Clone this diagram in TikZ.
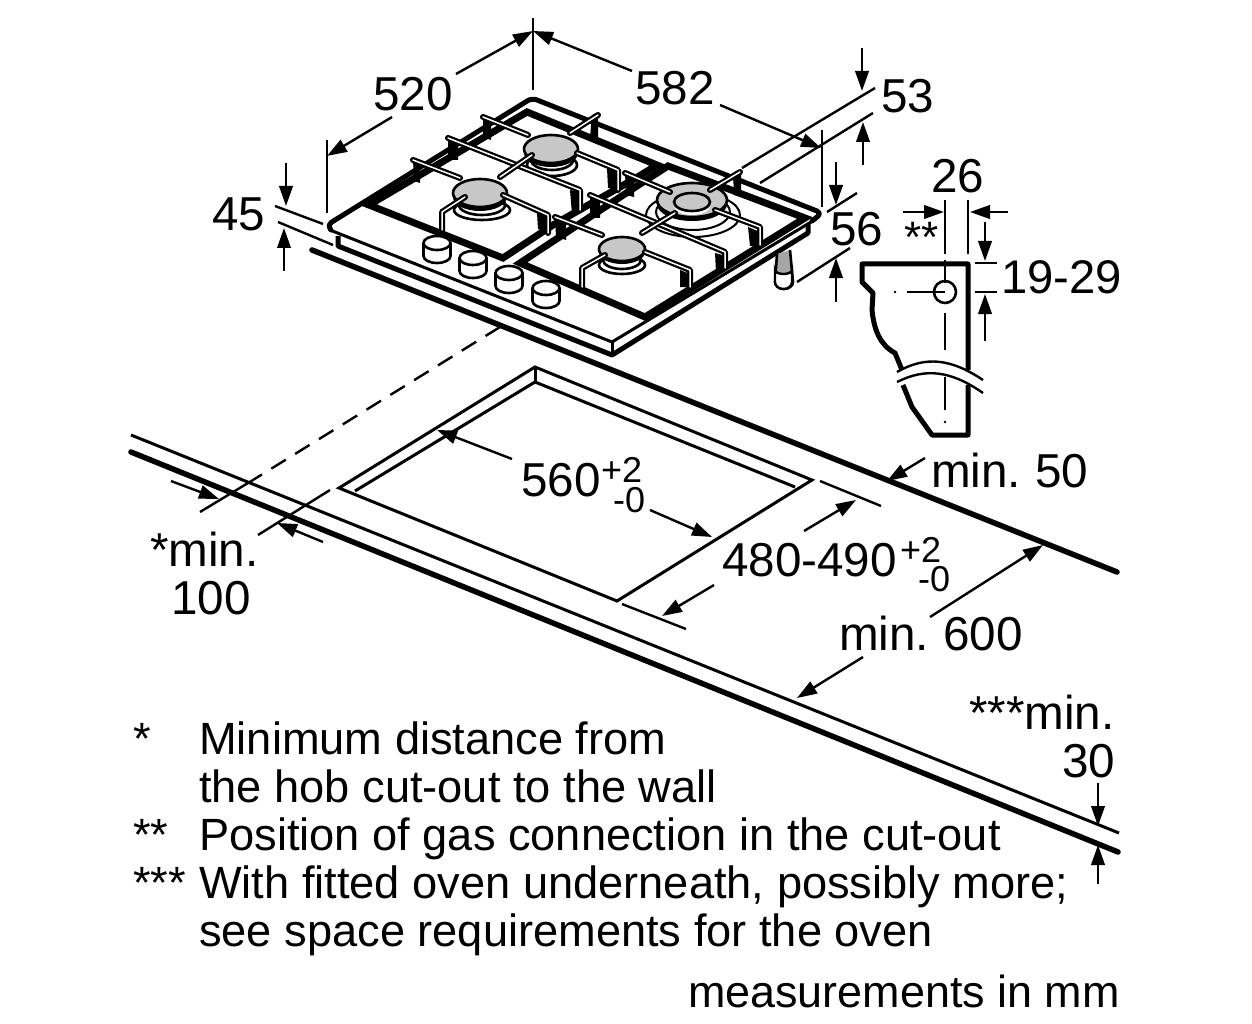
\documentclass[tikz,border=0pt]{standalone}
\usepackage{fontspec}
\setmainfont{Liberation Sans}
\usetikzlibrary{arrows.meta}
\tikzset{
 lbl/.style={font=\fontsize{47.6}{48}\selectfont,inner sep=0pt,anchor=base west},
 sup/.style={font=\fontsize{36}{36}\selectfont,inner sep=0pt,anchor=base west},
 txt/.style={font=\fontsize{45.2}{45}\selectfont,inner sep=0pt,anchor=base west},
 dim/.style={line width=2.4pt},
 arr/.style={line width=2.4pt,-{Triangle[length=20pt,width=13.5pt]}},
 thick1/.style={line width=5pt,line join=round,line cap=round},
 pan/.style={line width=7pt,line join=miter,line cap=round},
 burner/.style={draw,line width=2.6pt,fill=black!22},
 bar/.style={line width=6pt,line join=round,line cap=round},
 barw/.style={line width=1.5pt,white,line join=round,line cap=round},
 block/.style={fill=black},
}
\newcommand{\knob}[2]{%
 \begin{scope}[shift={(#1,#2)}]
 \draw[line width=2.6pt,fill=white] (-13.5,0) -- (-13.5,13) arc[start angle=180,end angle=360,x radius=13.5,y radius=-7] -- (13.5,0);
 \draw[line width=2.6pt,fill=white] (0,0) ellipse[x radius=13.5,y radius=7];
 \end{scope}}
\newcommand{\gbar}[1]{\draw[bar] #1; \draw[barw] #1;}
\begin{document}
\begin{tikzpicture}[x=1pt,y=-1pt]
\useasboundingbox (0,0) rectangle (1252,1024);
% hob plate
\coordinate (hL) at (327,225);
\coordinate (hT) at (532,98);
\coordinate (hR) at (822,213);
\coordinate (hB) at (612,342);
\draw[line width=3pt,line join=round] (330,230) -- (hB) -- (816,219);
\draw[thick1,rounded corners=5pt] (331,230) -- (hL) -- (hT) -- (hR) -- (812,221);
\draw[line width=5pt,line join=round] (338,236) -- (338,246) -- (612,355) -- (808,233) -- (808,224);
\draw[line width=3pt] (612,342) -- (612,355);
% pan supports
\draw[pan] (636,178) -- (553,225) -- (503,258) -- (369,205) -- (527,112) -- (657,165) -- (636,178);
\draw[pan] (640,184) -- (668,166) -- (805,218) -- (645,317) -- (520,263) -- (640,184);
% knobs
\knob{437}{243}\knob{473}{258}\knob{509}{273}\knob{546}{288}
% foot
\draw[line width=2.6pt,fill=black!35] (777,254) -- (775,282) arc[start angle=180,end angle=360,x radius=9,y radius=-7] -- (790,250);
\draw[line width=2.4pt,fill=white] (775,270) arc[start angle=180,end angle=360,x radius=8.5,y radius=-4] -- (792,282) arc[start angle=0,end angle=180,x radius=8.5,y radius=7] -- cycle;
% burners
\draw[line width=2.6pt] (482,210) ellipse[x radius=28,y radius=10];
\draw[line width=2.6pt] (482,205) ellipse[x radius=23,y radius=10];
\draw[line width=2.6pt] (552,165) ellipse[x radius=25,y radius=11];
\draw[line width=2.6pt] (552,160) ellipse[x radius=21,y radius=10];
\draw[line width=2.6pt] (622,265) ellipse[x radius=23,y radius=9];
\draw[line width=2.6pt] (622,260) ellipse[x radius=19,y radius=9];
\draw[line width=2pt] (693,215) ellipse[x radius=47,y radius=22];
\draw[line width=2pt] (693,212) ellipse[x radius=37,y radius=18];
\fill (480,197) ellipse[x radius=27,y radius=14];
\fill (551,153) ellipse[x radius=27,y radius=14];
\fill (622,252) ellipse[x radius=23,y radius=12];
\fill (692,204) ellipse[x radius=35,y radius=17];
\draw[burner] (480,193) ellipse[x radius=27,y radius=14];
\draw[burner] (551,149) ellipse[x radius=27,y radius=14];
\draw[burner] (622,249) ellipse[x radius=23,y radius=12];
\draw[burner] (692,200) ellipse[x radius=35,y radius=17];
\fill[white] (692,206) ellipse[x radius=18,y radius=9];
\draw[burner] (692,202) ellipse[x radius=18,y radius=9];
% grate posts
\path[block] (413,160) -- (420,160) -- (420,183) -- (414,181) -- cycle;
\path[block] (448,140) -- (458,143) -- (458,160) -- (448,160) -- cycle;
\path[block] (483,117) -- (491,120) -- (491,140) -- (483,137) -- cycle;
\path[block] (592,115) -- (598,115) -- (598,140) -- (590,137) -- cycle;
\path[block] (607,168) -- (618,172) -- (618,190) -- (608,188) -- cycle;
\path[block] (570,190) -- (581,192) -- (581,211) -- (572,214) -- cycle;
\path[block] (537,213) -- (548,217) -- (548,233) -- (538,229) -- cycle;
\path[block] (555,217) -- (566,221) -- (566,240) -- (556,237) -- cycle;
\path[block] (590,197) -- (600,200) -- (600,218) -- (590,218) -- cycle;
\path[block] (625,173) -- (634,176) -- (634,197) -- (626,195) -- cycle;
\path[block] (715,253) -- (726,256) -- (726,268) -- (716,272) -- cycle;
\path[block] (733,173) -- (741,173) -- (741,197) -- (734,195) -- cycle;
\path[block] (748,227) -- (760,232) -- (760,246) -- (750,246) -- cycle;
\path[block] (680,270) -- (690,274) -- (690,287) -- (680,287) -- cycle;
% grate bars
\gbar{(413,160) -- (460,178)}
\gbar{(448,138) -- (580,190) -- (580,210)}
\gbar{(483,117) -- (528,135)}
\gbar{(570,133) -- (598,115)}
\gbar{(500,177) -- (532,155)}
\gbar{(577,153) -- (618,170) -- (618,190)}
\gbar{(465,197) -- (442,212) -- (442,230)}
\gbar{(503,195) -- (548,215) -- (548,233)}
\gbar{(555,217) -- (602,235)}
\gbar{(590,195) -- (725,252) -- (725,268)}
\gbar{(625,173) -- (670,192)}
\gbar{(642,233) -- (675,213)}
\gbar{(710,190) -- (740,172)}
\gbar{(715,210) -- (760,227) -- (760,245)}
\gbar{(605,255) -- (582,268) -- (582,287)}
\gbar{(645,252) -- (690,270) -- (690,287)}
% dim 520 / 582
\coordinate (e1) at (327,140); \coordinate (e2) at (327,213);
\coordinate (e3) at (533,18); \coordinate (e4) at (533,90);
\coordinate (e5) at (822,130); \coordinate (e6) at (822,207);
\draw[dim] (e1) -- (e2);
\draw[dim] (e3) -- (e4);
\draw[dim] (e5) -- (e6);
\draw[arr] (392,117) -- (327,156);
\draw[arr] (456,74) -- (533,31);
\draw[arr] (632,71) -- (533,31);
\draw[arr] (720,105) -- (821,148);
\node[lbl] (n520) at (373,111) {520};
\node[lbl] (n582) at (635,105) {582};
% 53
\draw[dim] (742,168) -- (875,88);
\draw[dim] (760,183) -- (873,113);
\draw[arr] (862,48) -- (862,91);
\draw[arr] (863,165) -- (863,122);
\node[lbl] (n53) at (881,113) {53};
% 56
\draw[dim] (827,212) -- (857,193);
\draw[dim] (797,282) -- (850,248);
\draw[arr] (836,162) -- (836,205);
\draw[arr] (836,302) -- (836,258);
\node[lbl] (n56) at (830,246) {56};
% 45
\draw[dim] (275,206) -- (323,224);
\draw[dim] (278,222) -- (333,245);
\draw[arr] (286,163) -- (286,206);
\draw[arr] (284,271) -- (284,228);
\node[lbl] (n45) at (212,231) {45};
% section profile
\draw[line width=5pt,line join=round] (903,385) -- (912,407) -- (932,435) -- (968,435) -- (968,385);
\draw[line width=5pt,line join=round] (968,370) -- (968,264) -- (862,264) -- (862,282) -- (873,293) -- (872,310) .. controls (874,330) and (880,345) .. (895,353) -- (902,370);
\draw[line width=2.4pt] (897,372) .. controls (925,356) and (950,358) .. (983,380);
\draw[line width=2.4pt] (897,382) .. controls (925,368) and (950,370) .. (983,393);
\draw[line width=2.4pt] (945,200) -- (945,254);
\draw[line width=2.4pt] (945,260) -- (945,283);
\draw[line width=2.4pt] (945,313) -- (945,350);
\draw[line width=2.4pt] (945,377) -- (945,410);
\fill (945,422) circle (1.4);
\draw[line width=2.4pt] (907,292) -- (945,292);
\fill (895,292) circle (1.4);
\draw[line width=2.6pt] (945,292) circle (11);
\draw[dim] (968,200) -- (968,254);
\draw[arr] (903,212) -- (944,212);
\draw[arr] (1008,212) -- (970,212);
\draw[arr] (985,222) -- (985,261);
\draw[arr] (985,341) -- (985,294);
\draw[dim] (975,263) -- (997,263);
\draw[dim] (975,292) -- (997,292);
\node[lbl] (n26) at (931,193) {26};
\node[lbl,font=\fontsize{44}{44}\selectfont] (nss) at (904,253) {**};
\node[lbl,font=\fontsize{47.2}{48}\selectfont] (n1929) at (1001,293) {19-29};
% countertop
\draw[line width=3pt] (131,435) -- (1119,833);
\draw[line width=5.5pt,line cap=round] (131,452) -- (1118,852);
\draw[line width=5.5pt,line cap=round] (312,250) -- (1117,572);
% cutout
\draw[line width=3pt,line join=miter] (339,488) -- (535,367) -- (812,480) -- (617,601) -- cycle;
\draw[line width=3pt] (355,491) -- (535,382) -- (795,487);
\draw[line width=3pt] (535,367) -- (535,382);
% wall lines
\draw[dim,dash pattern=on 17pt off 11pt] (500,327) -- (253,480);
\draw[dim] (253,480) -- (200,512);
\draw[dim] (330,490) -- (258,535);
% min 100 arrows
\draw[arr] (171,481) -- (219,499);
\draw[arr] (323,542) -- (277,523);
\node[lbl] (n100a) at (150,566) {*min.};
\node[lbl] (n100b) at (171,614) {100};
% 560
\draw[arr] (512,459) -- (437,430);
\draw[arr] (650,510) -- (712,537);
\node[lbl] (n560) at (521,496) {560};
\node[sup] (n560a) at (601,482) {+2};
\node[sup] (n560b) at (613,512) {-0};
% 480
\draw[dim] (820,481) -- (881,506);
\draw[dim] (622,604) -- (686,629);
\draw[arr] (804,531) -- (856,500);
\draw[arr] (714,585) -- (662,616);
\node[lbl] (n480) at (722,576) {480-490};
\node[sup] (n480a) at (900,562) {+2};
\node[sup] (n480b) at (918,591) {-0};
% min 50
\draw[arr] (925,458) -- (887,481);
\node[lbl] (n50) at (931,487) {min.\hspace{14pt}50};
% min 600
\draw[arr] (930,617) -- (1043,545);
\draw[arr] (863,657) -- (797,698);
\node[lbl] (n600) at (839,650) {min.\hspace{14pt}600};
% min 30
\node[lbl] (n30a) at (969,729) {***min.};
\node[lbl] (n30b) at (1062,777) {30};
\draw[arr] (1098,783) -- (1098,826);
\draw[arr] (1098,884) -- (1098,845);
% notes
\node[txt] (s1) at (133,754) {*};
\node[txt] (t1) at (199,754) {Minimum distance from};
\node[txt] (t2) at (199,802) {the hob cut-out to the wall};
\node[txt] (s2) at (133,850) {**};
\node[txt] (t3) at (199,850) {Position of gas connection in the cut-out};
\node[txt] (s3) at (133,898) {***};
\node[txt] (t4) at (199,898) {With fitted oven underneath, possibly more;};
\node[txt] (t5) at (199,946) {see space requirements for the oven};
\node[txt,font=\fontsize{44.9}{45}\selectfont] (t6) at (688,1007) {measurements in mm};
\end{tikzpicture}
\end{document}
